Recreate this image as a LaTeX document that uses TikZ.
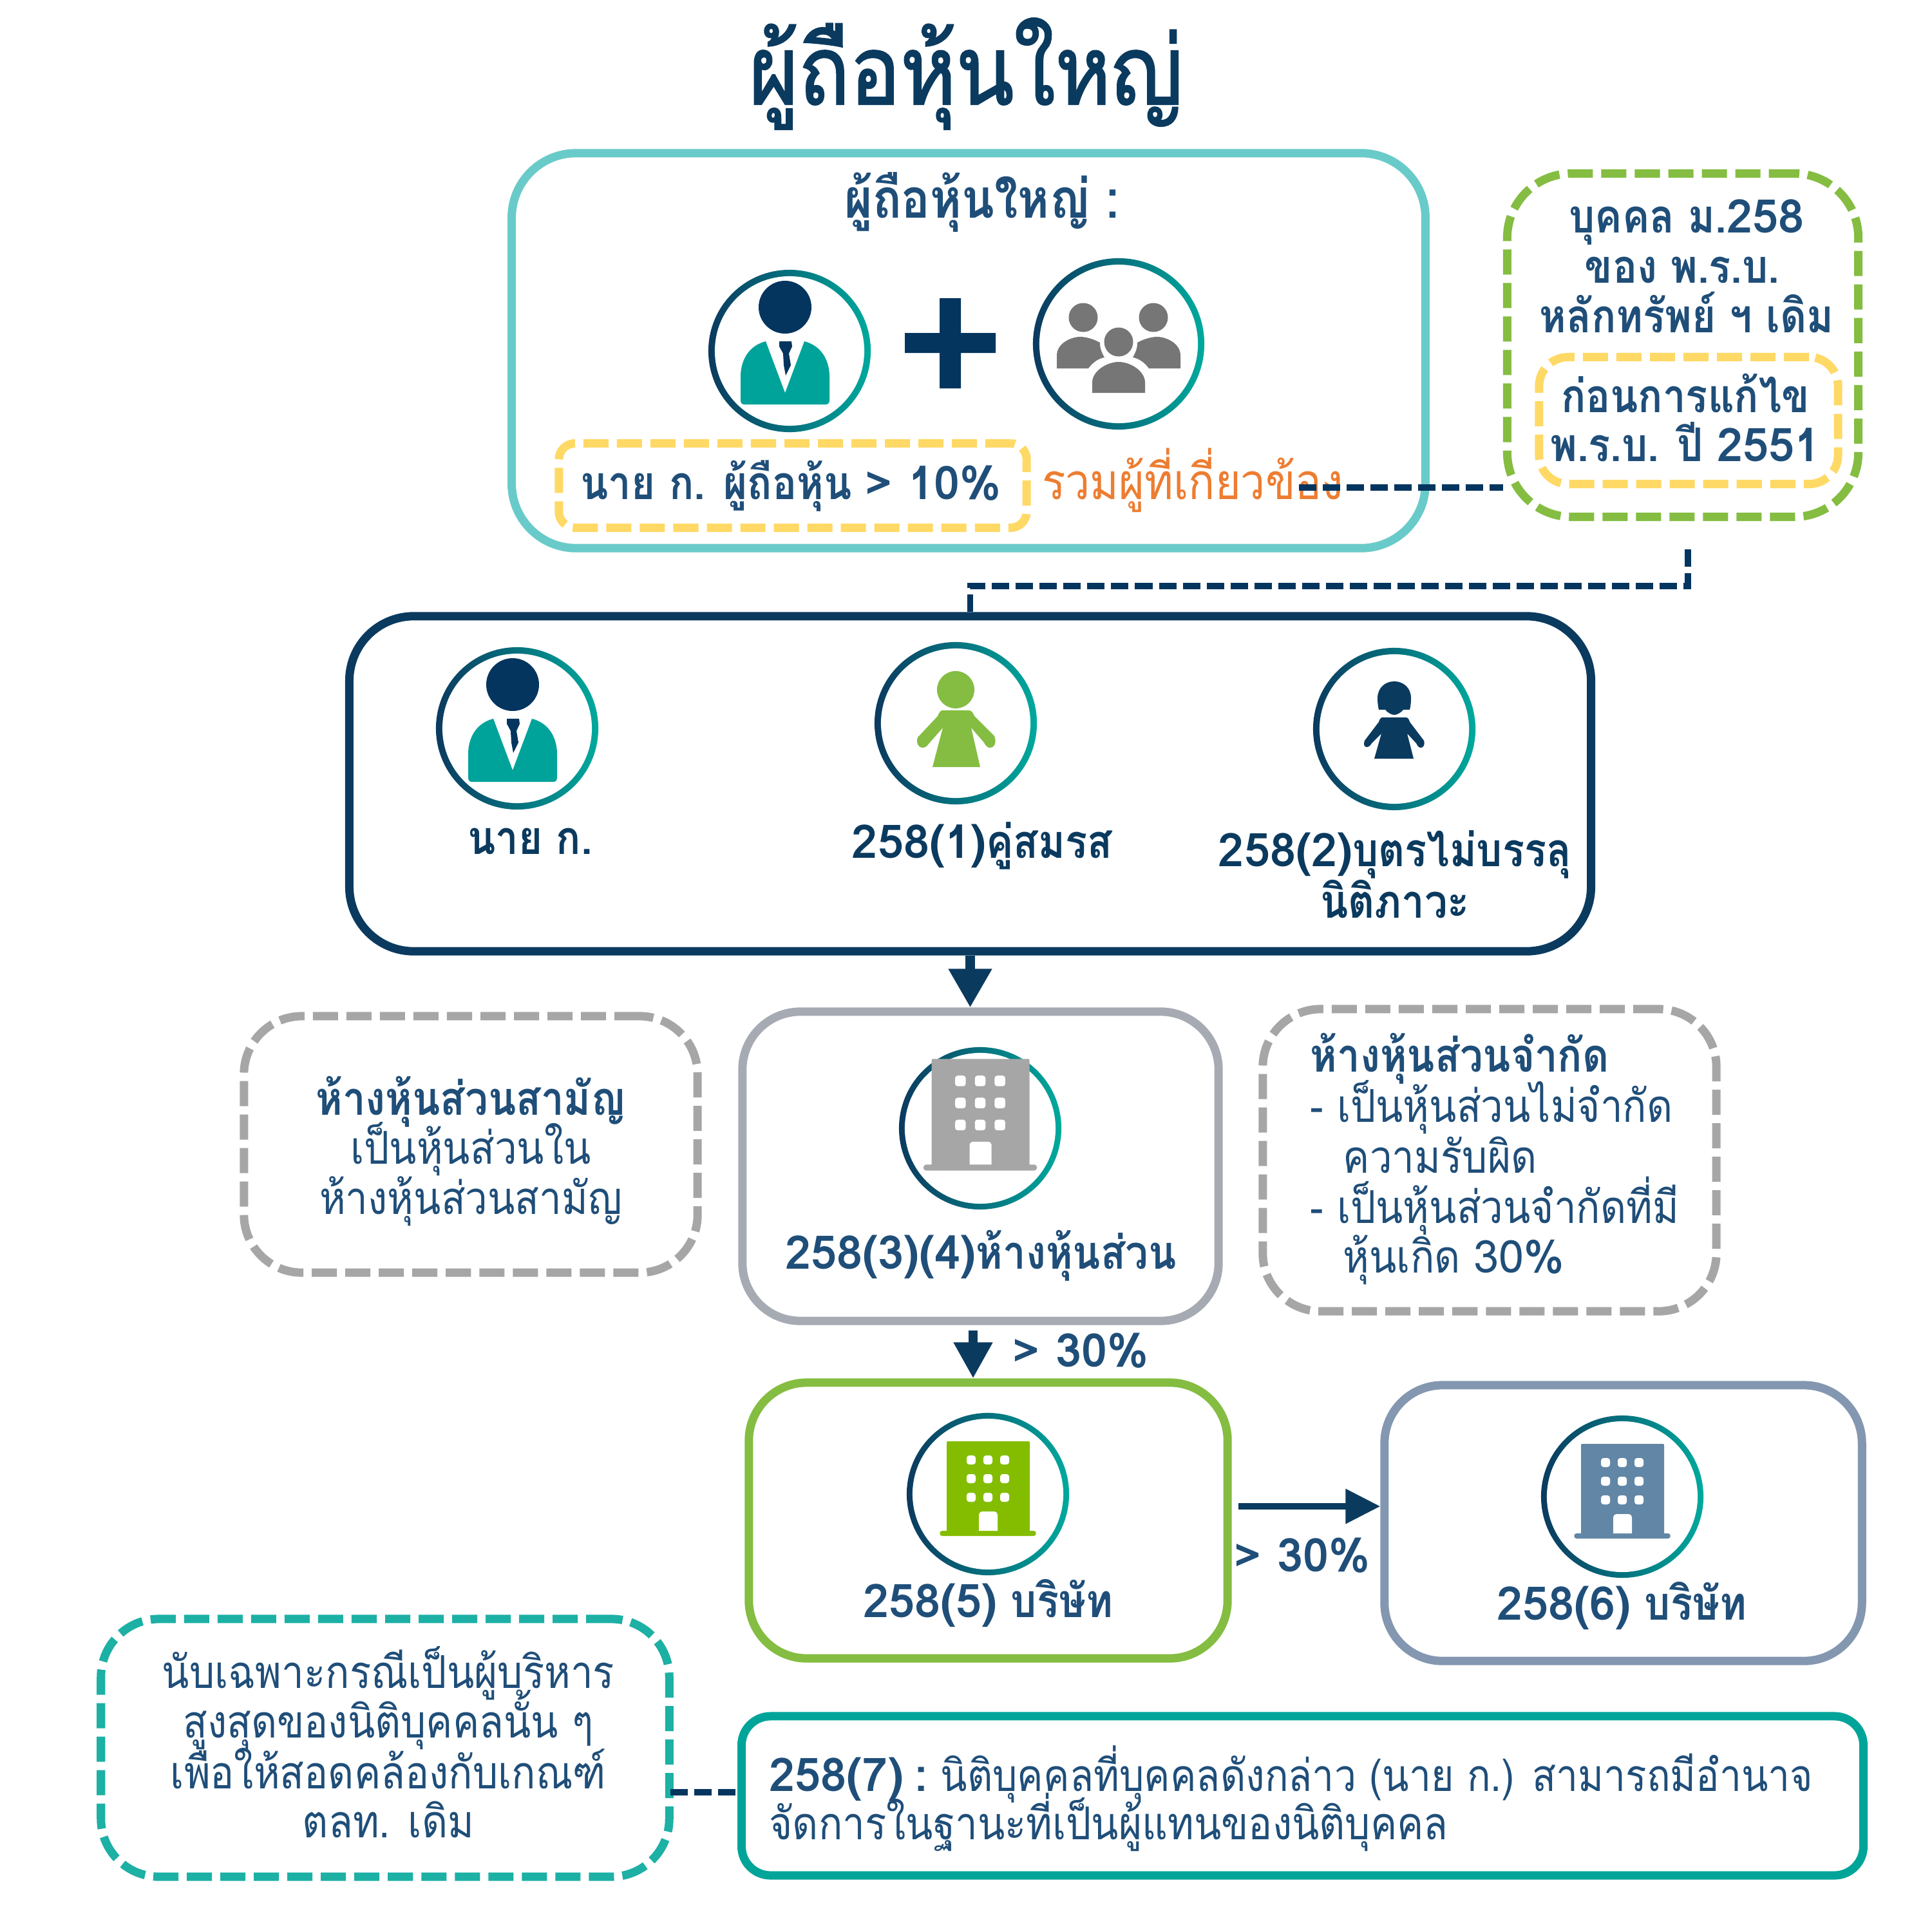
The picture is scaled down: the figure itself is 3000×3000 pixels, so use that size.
\documentclass[tikz,border=0pt]{standalone}
\usepackage{fontspec}
\setmainfont[Script=Thai,FakeStretch=0.88]{Loma}
\newfontfamily\latf[Script=Thai]{Loma}
\newfontfamily\titlef[Script=Thai,FakeStretch=0.88,FakeBold=1.6]{Loma}
\newcommand\lat[1]{{\latf #1}}
\usetikzlibrary{arrows.meta}
\definecolor{txtblue}{HTML}{1F4E79}
\definecolor{navy}{HTML}{0B3A5F}
\definecolor{dashnavy}{HTML}{03355F}
\definecolor{tealbox}{HTML}{69CBC9}
\definecolor{greenbox}{HTML}{84BD41}
\definecolor{yellowbox}{HTML}{FFD966}
\definecolor{grayboxc}{HTML}{A6ABB3}
\definecolor{graydash}{HTML}{A6A6A6}
\definecolor{bluegray}{HTML}{8497B0}
\definecolor{tealdash}{HTML}{1DB0A5}
\definecolor{tealsolid}{HTML}{00A499}
\definecolor{orangetxt}{HTML}{ED7D31}
\definecolor{groupgray}{HTML}{767676}
\definecolor{suit}{HTML}{00A39A}
\definecolor{bgreen}{HTML}{84BD00}
\definecolor{bblue}{HTML}{6286A5}
\definecolor{ringl}{HTML}{0B3A5F}
\definecolor{ringr}{HTML}{00A99D}
\tikzset{
  x=0.01cm,y=-0.01cm,
  framebox/.style={rectangle,line width=3.7pt,inner sep=0pt,fill=none},
  dashbox/.style={framebox,dash pattern=on 3.9mm off 1.3mm},
  ringout/.style={circle,inner sep=0pt,left color=ringl,right color=ringr,draw=none},
  ringin/.style={circle,inner sep=0pt,fill=white,draw=none},
  tb/.style={anchor=base,inner sep=0pt,text=txtblue,font=\fontsize{20.5pt}{22pt}\selectfont\bfseries},
  tr/.style={anchor=base,inner sep=0pt,text=txtblue,font=\fontsize{20pt}{22pt}\selectfont},
  lft/.style={anchor=base west},
  cdash/.style={draw=dashnavy,line width=2.6pt,dash pattern=on 2.7mm off 1mm},
  personicon/.pic={
    \fill[dashnavy] (-7,-68) circle (41);
    \fill[suit] (-37,-15) -- (-7,65) -- (23,-15) .. controls (50,-8) and (62,15) .. (62,40) -- (62,76) .. controls (62,81) and (60,83) .. (56,83) -- (-70,83) .. controls (-74,83) and (-76,81) .. (-76,76) -- (-76,40) .. controls (-76,15) and (-64,-8) .. (-37,-15) -- cycle;
    \fill[dashnavy] (-16,-15) -- (3,-15) -- (4,-7) -- (-1,4) -- (2,22) -- (-6,38) -- (-9,22) -- (-10,4) -- (-16,-7) -- cycle;
  },
  groupicon/.pic={
    \fill[groupgray] (-55,-41) circle (22.5) (54,-41) circle (22.5) (0,-3) circle (22.5);
    \fill[groupgray] (-96,38) -- (-96,18) .. controls (-96,-2) and (-72,-11) .. (-60,-11) .. controls (-50,-11) and (-38,-7) .. (-29,-2) .. controls (-29,8) and (-26,14) .. (-22,21) .. controls (-33,23) and (-41,30) .. (-47,38) -- cycle;
    \fill[groupgray] (96,38) -- (96,18) .. controls (96,-2) and (72,-11) .. (60,-11) .. controls (50,-11) and (38,-7) .. (29,-2) .. controls (29,8) and (26,14) .. (22,21) .. controls (33,23) and (41,30) .. (47,38) -- cycle;
    \fill[groupgray] (-41,76) -- (-41,60) .. controls (-41,42) and (-18,28) .. (0,28) .. controls (18,28) and (41,42) .. (41,60) -- (41,76) -- cycle;
  },
  spouseicon/.pic={
    \fill[greenbox] (0,-52) circle (29);
    \fill[greenbox] (-20,-20) -- (20,-20) .. controls (25,-20) and (27,-16) .. (29,-11) -- (60,20) .. controls (64,30) and (60,38) .. (53,38) .. controls (49,38) and (46,34) .. (44,30) -- (24,7) -- (38,68) -- (-36,68) -- (-20,7) -- (-42,32) .. controls (-45,37) and (-49,38) .. (-52,38) .. controls (-58,38) and (-62,30) .. (-59,22) -- (-28,-11) .. controls (-26,-16) and (-24,-20) .. (-20,-20) -- cycle;
  },
  childicon/.pic={
    \fill[navy] (-26,-48) .. controls (-26,-64) and (-14,-74) .. (0,-74) .. controls (14,-74) and (26,-64) .. (26,-48) .. controls (26,-40) and (25,-34) .. (24,-30) -- (14,-30) .. controls (10,-25) and (4,-22) .. (0,-22) .. controls (-4,-22) and (-10,-25) .. (-14,-30) -- (-24,-30) .. controls (-25,-34) and (-26,-40) .. (-26,-48) -- cycle;
    \fill[navy] (-18,-18) -- (18,-18) .. controls (21,-18) and (23,-15) .. (24,-11) -- (46,18) .. controls (48,25) and (45,29) .. (41,29) .. controls (38,29) and (36,26) .. (34,22) -- (20,7) -- (30,46) -- (-31,46) -- (-20,7) -- (-35,22) .. controls (-37,26) and (-40,28) .. (-43,28) .. controls (-47,28) and (-48,23) .. (-46,18) -- (-24,-11) .. controls (-23,-15) and (-21,-18) .. (-18,-18) -- cycle;
  },
  buildicon/.pic={
    \fill[pic actions] (-64,-80) .. controls (-64,-81.5) and (-63,-82) .. (-62,-82) -- (63,-82) .. controls (64,-82) and (65,-81.5) .. (65,-80) -- (65,57) -- (71,57) .. controls (76,57) and (76,65) .. (71,65) -- (-71,65) .. controls (-76,65) and (-76,57) .. (-71,57) -- (-64,57) -- cycle;
    \foreach \yy in {-60,-31,-2} \foreach \xx in {-33,-7,19}
      \fill[white,rounded corners=0.4mm] (\xx,\yy) rectangle ++(14,14);
    \fill[white] (-14,57) [rounded corners=0.5mm] -- (-14,27) -- (15,27) [sharp corners] -- (15,57) -- cycle;
  },
}
\begin{document}
\begin{tikzpicture}
\useasboundingbox (0,0) rectangle (3000,3000);
\fill[white] (0,0) rectangle (3000,3000);

% title
\node[tr,text=navy,font=\fontsize{42.4pt}{46pt}\selectfont\titlef] (title) at (1500,162) {ผู้ถือหุ้นใหญ่};

% frames
\node[framebox,draw=tealbox,minimum width=14.18cm,minimum height=6.13cm,rounded corners=1cm] (topbox) at (1504,544.5) {};
\node[dashbox,draw=greenbox,minimum width=5.45cm,minimum height=5.33cm,rounded corners=1cm] (lawbox) at (2613,536) {};
\node[dashbox,draw=yellowbox,minimum width=4.64cm,minimum height=1.97cm,rounded corners=0.45cm] (beforebox) at (2622,653) {};
\node[dashbox,draw=yellowbox,minimum width=7.26cm,minimum height=1.31cm,rounded corners=0.25cm] (tenbox) at (1231,754) {};
\node[framebox,draw=navy,minimum width=19.27cm,minimum height=5.20cm,rounded corners=1cm] (mainbox) at (1506.5,1217) {};
\node[framebox,draw=grayboxc,minimum width=7.39cm,minimum height=4.80cm,rounded corners=0.9cm] (partbox) at (1522.5,1811) {};
\node[dashbox,draw=graydash,minimum width=7.04cm,minimum height=3.98cm,rounded corners=0.9cm] (ordbox) at (731,1777) {};
\node[dashbox,draw=graydash,minimum width=7.04cm,minimum height=4.69cm,rounded corners=0.9cm] (limbox) at (2313,1801.5) {};
\node[framebox,draw=greenbox,minimum width=7.43cm,minimum height=4.28cm,rounded corners=0.9cm] (comp5) at (1534.5,2361) {};
\node[framebox,draw=bluegray,minimum width=7.41cm,minimum height=4.28cm,rounded corners=0.9cm] (comp6) at (2520.5,2365) {};
\node[dashbox,draw=tealdash,minimum width=8.82cm,minimum height=4.00cm,rounded corners=0.9cm] (notebox) at (598,2714) {};
\node[framebox,draw=tealsolid,minimum width=17.41cm,minimum height=2.47cm,rounded corners=0.45cm] (sevenbox) at (2022.5,2788.5) {};

% icon rings
\node[ringout,minimum size=2.52cm] (r1) at (1226,545) {};
\node[ringin,minimum size=2.32cm] (r1i) at (r1) {};
\node[ringout,minimum size=2.66cm] (r2) at (1737,534) {};
\node[ringin,minimum size=2.46cm] (r2i) at (r2) {};
\node[ringout,minimum size=2.52cm] (r3) at (803,1131) {};
\node[ringin,minimum size=2.32cm] (r3i) at (r3) {};
\node[ringout,minimum size=2.52cm] (r4) at (1484,1123) {};
\node[ringin,minimum size=2.32cm] (r4i) at (r4) {};
\node[ringout,minimum size=2.52cm] (r5) at (2165,1132) {};
\node[ringin,minimum size=2.32cm] (r5i) at (r5) {};
\node[ringout,minimum size=2.52cm] (r6) at (1522,1752) {};
\node[ringin,minimum size=2.34cm] (r6i) at (r6) {};
\node[ringout,minimum size=2.52cm] (r7) at (1534,2320) {};
\node[ringin,minimum size=2.34cm] (r7i) at (r7) {};
\node[ringout,minimum size=2.52cm] (r8) at (2519,2324) {};
\node[ringin,minimum size=2.34cm] (r8i) at (r8) {};

% icons
\pic at (r1) {personicon};
\pic at (r2) {groupicon};
\pic at (r3) {personicon};
\pic at (r4) {spouseicon};
\pic at (r5) {childicon};
\pic[fill=graydash,yscale=1.18,xscale=1.18] at (1522,1741) {buildicon};
\pic[fill=bgreen] at (r7) {buildicon};
\pic[fill=bblue] at (r8) {buildicon};

% plus sign
\fill[dashnavy] (1459,463) -- (1492,463) -- (1492,517) -- (1546,517) -- (1546,548) -- (1492,548) -- (1492,603) -- (1459,603) -- (1459,548) -- (1405,548) -- (1405,517) -- (1459,517) -- cycle;

% text
\node[tb,font=\fontsize{24pt}{26pt}\selectfont\bfseries] (t1) at (1525,338) {ผู้ถือหุ้นใหญ่ :};
\node[tb] (t2) at (1228,775) {นาย ก. ผู้ถือหุ้น \lat{> 10\%}};
\node[tr,text=orangetxt,font=\fontsize{22pt}{24pt}\selectfont] (t3) at (1852,775) {รวมผู้ที่เกี่ยวข้อง};
\node[tb] (t4) at (2619,361) {บุคคล ม.\lat{258}};
\node[tb] (t5) at (2612,439) {ของ พ.ร.บ.};
\node[tb] (t6) at (2619,516) {หลักทรัพย์ ฯ เดิม};
\node[tb] (t7) at (2617,640) {ก่อนการแก้ไข};
\node[tb] (t8) at (2617,716) {พ.ร.บ. ปี \lat{2551}};
\node[tb,text=navy] (t9) at (823,1326) {นาย ก.};
\node[tb,text=navy] (t10) at (1525,1332) {\lat{258(1)}คู่สมรส};
\node[tb,text=navy] (t11) at (2166,1345) {\lat{258(2)}บุตรไม่บรรลุ};
\node[tb,text=navy] (t12) at (2166,1425) {นิติภาวะ};
\node[tb] (t13) at (731,1731) {ห้างหุ้นส่วนสามัญ};
\node[tr] (t14) at (731,1807) {เป็นหุ้นส่วนใน};
\node[tr] (t15) at (731,1885) {ห้างหุ้นส่วนสามัญ};
\node[tb] (t16) at (1523,1970) {\lat{258(3)(4)}ห้างหุ้นส่วน};
\node[tb,lft] (t17) at (2034,1664) {ห้างหุ้นส่วนจำกัด};
\node[tr,lft] (t18) at (2034,1742) {- เป็นหุ้นส่วนไม่จำกัด};
\node[tr,lft] (t19) at (2085,1821) {ความรับผิด};
\node[tr,lft] (t20) at (2034,1899) {- เป็นหุ้นส่วนจำกัดที่มี};
\node[tr,lft] (t21) at (2085,1976) {หุ้นเกิด \lat{30\%}};
\node[tb] (t22) at (1678,2122) {\lat{> 30\%}};
\node[tb] (t23) at (2022,2440) {\lat{> 30\%}};
\node[tb] (t24) at (1534,2511) {\lat{258(5)} บริษัท};
\node[tb] (t25) at (2518,2515) {\lat{258(6)} บริษัท};
\node[tr] (t26) at (603,2621) {นับเฉพาะกรณีเป็นผู้บริหาร};
\node[tr] (t27) at (603,2698) {สูงสุดของนิติบุคคลนั้น ๆ};
\node[tr] (t28) at (603,2777) {เพื่อให้สอดคล้องกับเกณฑ์};
\node[tr] (t29) at (603,2853) {ตลท. เดิม};
\node[tr,lft,font=\fontsize{19.6pt}{22pt}\selectfont] (t30) at (1194,2781) {{\fontsize{20.5pt}{22pt}\selectfont\bfseries\lat{258(7)\hspace{-2pt} :}}\hspace{-2pt} นิติบุคคลที่บุคคลดังกล่าว (นาย ก.) สามารถมีอำนาจ};
\node[tr,lft] (t31) at (1194,2856) {จัดการในฐานะที่เป็นผู้แทนของนิติบุคคล};

% connectors
\coordinate (d1s) at (2017,757);
\draw[cdash] (d1s) -- (d1s -| lawbox.west);
\coordinate (d2s) at (2621,853);
\draw[cdash] (d2s) -- ++(0,57) -| (mainbox.north);
\draw[draw=navy,line width=4pt,-{Triangle[length=6mm,width=6.4mm]}] (mainbox.south) -- (mainbox.south |- partbox.north);
\coordinate (a2s) at (1511,2066);
\draw[draw=navy,line width=4pt,-{Triangle[length=5.6mm,width=5.7mm]}] (a2s) -- (a2s |- comp5.north);
\coordinate (a3s) at (1923,2339);
\draw[draw=navy,line width=2.9pt,-{Triangle[length=5.4mm,width=5.2mm]}] (a3s) -- (a3s -| comp6.west);
\coordinate (d3s) at (1041,2783);
\draw[cdash] (d3s) -- (d3s -| sevenbox.west);
\end{tikzpicture}
\end{document}
